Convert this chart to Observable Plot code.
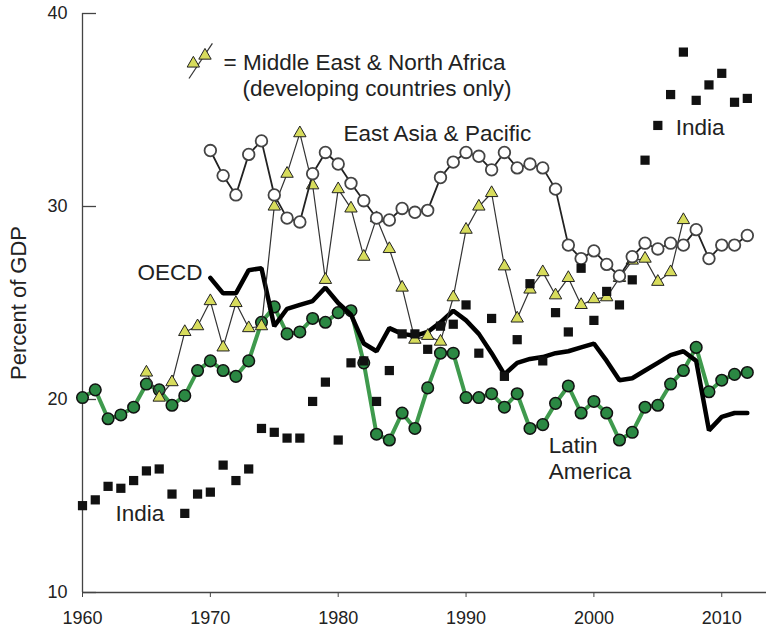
<!DOCTYPE html>
<html>
<head>
<meta charset="utf-8">
<script src="https://cdn.jsdelivr.net/npm/d3@7"></script>
<script src="https://cdn.jsdelivr.net/npm/@observablehq/plot@0.6"></script>
<style>
  body { margin: 0; background: #fff; }
  #chart svg { display: block; }
</style>
</head>
<body>
<div id="chart"></div>
<script>
// ---- Data (percent of GDP) ----
const latinStart = 1960;
const latinAmerica = [20.1, 20.5, 19.0, 19.2, 19.6, 20.8, 20.5, 19.7, 20.2, 21.5,
  22.0, 21.5, 21.2, 22.0, 24.0, 24.8, 23.4, 23.5, 24.2, 24.0,
  24.5, 24.6, 21.9, 18.2, 17.9, 19.3, 18.5, 20.6, 22.4, 22.4,
  20.1, 20.1, 20.3, 19.6, 20.3, 18.5, 18.7, 19.8, 20.7, 19.3,
  19.9, 19.3, 17.9, 18.3, 19.6, 19.7, 20.8, 21.5, 22.7, 20.4,
  21.0, 21.3, 21.4];

const oecdStart = 1970;
const oecd = [26.3, 25.5, 25.5, 26.7, 26.8, 23.8, 24.7, 24.9, 25.1, 25.8,
  25.0, 24.4, 22.9, 22.5, 23.7, 23.4, 23.3, 23.5, 24.0, 24.6,
  24.1, 23.4, 22.4, 21.3, 21.9, 22.1, 22.2, 22.4, 22.5, 22.7,
  22.9, 22.0, 21.0, 21.1, 21.5, 21.9, 22.3, 22.5, 22.0, 18.4,
  19.1, 19.3, 19.3];

const menaStart = 1965;
const mena = [21.4, 20.1, 20.9, 23.5, 23.8,
  25.1, 22.7, 25.0, 23.7, 23.8, 30.0, 31.7, 33.8, 31.1, 26.2,
  30.9, 29.9, 27.4, 29.4, 27.8, 25.8, 23.1, 23.3, 23.0, 25.3,
  28.8, 30.0, 30.7, 26.9, 24.2, 25.7, 26.6, 25.4, 26.3, 24.9,
  25.2, 25.3, 26.3, 27.2, 27.3, 26.1, 26.6, 29.3];

const eapStart = 1970;
const eastAsia = [32.9, 31.6, 30.6, 32.7, 33.4, 30.6, 29.4, 29.2, 31.7, 32.8,
  32.2, 31.2, 30.3, 29.4, 29.3, 29.9, 29.7, 29.8, 31.5, 32.3,
  32.8, 32.6, 31.9, 32.8, 32.0, 32.2, 32.0, 30.9, 28.0, 27.3,
  27.7, 27.0, 26.4, 27.4, 28.1, 27.8, 28.1, 28.0, 28.8, 27.3,
  28.0, 28.0, 28.5];

const indiaStart = 1960;
const india = [14.5, 14.8, 15.5, 15.4, 15.8, 16.3, 16.4, 15.1, 14.1, 15.1,
  15.2, 16.6, 15.8, 16.4, 18.5, 18.3, 18.0, 18.0, 19.9, 20.9,
  17.9, 21.9, 22.0, 19.9, 21.5, 23.4, 23.4, 22.6, 23.8, 23.9,
  24.9, 22.4, 24.2, 21.2, 23.1, 26.0, 22.0, 24.5, 23.5, 26.8,
  24.1, 25.6, 24.9, 26.2, 32.4, 34.2, 35.8, 38.0, 35.5, 36.3,
  36.9, 35.4, 35.6];

const xTicks = [1960, 1970, 1980, 1990, 2000, 2010];
const yTicks = [10, 20, 30, 40];
const yLabel = "Percent of GDP";

// Annotations (anchored in data coordinates)
const labelsStart = [
  {text: "= Middle East & North Africa", year: 1971.03, value: 37.46},
  {text: "(developing countries only)", year: 1972.52, value: 36.11},
  {text: "East Asia & Pacific", year: 1980.42, value: 33.78},
  {text: "India", year: 2006.4, value: 34.09},
  {text: "India", year: 1962.58, value: 14.09},
  {text: "Latin", year: 1996.46, value: 17.62},
  {text: "America", year: 1996.46, value: 16.27}
];
const labelsEnd = [
  {text: "OECD", year: 1969.39, value: 26.58}
];
const legendTriangles = [
  {year: 1968.67, value: 37.41},
  {year: 1969.58, value: 37.82}
];
const legendStroke = [{x1: 1968.33, y1: 36.63, x2: 1970.16, y2: 38.45}];

// ---- Build tables ----
const rows = (start, vals) => vals.map((v, i) => ({year: start + i, value: v}));
const latinRows = rows(latinStart, latinAmerica);
const oecdRows = rows(oecdStart, oecd);
const menaRows = rows(menaStart, mena);
const eapRows = rows(eapStart, eastAsia);
const indiaRows = rows(indiaStart, india);

const chart = Plot.plot({
  width: 766,
  height: 630,
  marginTop: 13,
  marginBottom: 38,
  marginLeft: 82,
  marginRight: 0,
  style: {
    fontFamily: "'Liberation Sans', Arial, Helvetica, sans-serif",
    fontSize: "18px",
    color: "#222",
    background: "#fff"
  },
  x: {domain: [1960, 2013.5]},
  y: {domain: [10, 40]},
  marks: [
    Plot.ruleX([1960], {stroke: "#444", strokeWidth: 1.3}),
    Plot.ruleY([10], {stroke: "#444", strokeWidth: 1.3}),
    Plot.tickY(yTicks, {y: d => d, insetRight: 670, stroke: "#444", strokeWidth: 1.3}),
    Plot.axisY({ticks: yTicks, tickSize: 0, tickPadding: 15, label: null, fontSize: 18}),
    Plot.axisX({ticks: xTicks, tickSize: 5, tickPadding: 14, tickFormat: d => String(d), label: null, fontSize: 18, stroke: "#444"}),
    Plot.text([yLabel], {frameAnchor: "left", textAnchor: "middle", rotate: -90, dx: -64, dy: 0, fontSize: 22, fill: "#222"}),

    // Latin America
    Plot.line(latinRows, {x: "year", y: "value", stroke: "#3f9a4d", strokeWidth: 4}),
    Plot.dot(latinRows, {x: "year", y: "value", r: 5.8, fill: "#2b8843", stroke: "#111", strokeWidth: 1.5}),

    // OECD
    Plot.line(oecdRows, {x: "year", y: "value", stroke: "#000", strokeWidth: 4.5, strokeLinejoin: "miter"}),

    // Middle East & North Africa
    Plot.line(menaRows, {x: "year", y: "value", stroke: "#333", strokeWidth: 1.2}),
    Plot.dot(menaRows, {x: "year", y: "value", symbol: "triangle", r: 4.6, fill: "#d7dc5c", stroke: "#222", strokeWidth: 1}),

    // East Asia & Pacific
    Plot.line(eapRows, {x: "year", y: "value", stroke: "#222", strokeWidth: 1.8}),
    Plot.dot(eapRows, {x: "year", y: "value", r: 5.8, fill: "#fff", stroke: "#444", strokeWidth: 1.8}),

    // India
    Plot.dot(indiaRows, {x: "year", y: "value", symbol: "square", r: 5.2, fill: "#111", stroke: "none"}),

    // Legend symbol
    Plot.link(legendStroke, {x1: "x1", y1: "y1", x2: "x2", y2: "y2", stroke: "#333", strokeWidth: 1.2}),
    Plot.dot(legendTriangles, {x: "year", y: "value", symbol: "triangle", r: 4.6, fill: "#d7dc5c", stroke: "#222", strokeWidth: 1}),

    // Annotations
    Plot.text(labelsStart, {x: "year", y: "value", text: "text", textAnchor: "start", fontSize: 22.5, fill: "#222"}),
    Plot.text(labelsEnd, {x: "year", y: "value", text: "text", textAnchor: "end", fontSize: 22.5, fill: "#222"})
  ]
});
document.getElementById("chart").appendChild(chart);
</script>
</body>
</html>
